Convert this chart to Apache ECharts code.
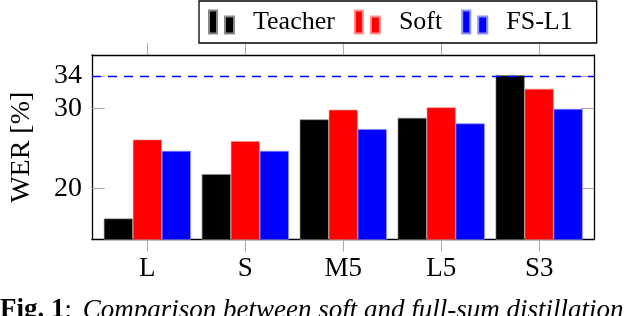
<!DOCTYPE html>
<html>
<head>
<meta charset="utf-8">
<script src="https://cdn.jsdelivr.net/npm/echarts@6/dist/echarts.min.js"></script>
<style>html,body{margin:0;padding:0;background:#fff;}#c{width:624px;height:316px;}</style>
</head>
<body>
<div id="c"></div>
<script>
const categories = ['L', 'S', 'M5', 'L5', 'S3'];
const teacher = [16.3, 21.8, 28.6, 28.8, 34.1];
const soft = [26.1, 25.9, 29.8, 30.1, 32.4];
const fsl1 = [24.7, 24.7, 27.4, 28.1, 29.9];
const yTicks = [20, 30, 34];
const refLine = 34;
const seriesNames = ['Teacher', 'Soft', 'FS-L1'];

const FONT = '"Liberation Serif", "Times New Roman", serif';
const chart = echarts.init(document.getElementById('c'), null, {renderer: 'canvas'});
const idx = categories.map((_, i) => i);
const toPts = arr => arr.map((v, i) => [i, v]);
const icon = 'path://M0,0h8v23h-8z M16,6h9v17h-9z';
const xTickVals = idx;

chart.setOption({
  animation: false,
  grid: {left: 87.5, right: 30, top: 55, bottom: 76.5, containLabel: false},
  legend: {
    data: seriesNames.map(n => ({name: n, icon: icon})),
    left: 199, top: 1,
    itemWidth: 25, itemHeight: 25,
    itemGap: 19,
    padding: [8, 24, 8, 9],
    borderColor: '#000', borderWidth: 1.3, borderRadius: 0,
    backgroundColor: '#fff',
    textStyle: {fontFamily: FONT, fontSize: 26, color: '#000', padding: [0, 0, 0, 14]}
  },
  xAxis: [{
    type: 'value', min: -0.565, max: 4.56,
    axisLine: {show: true, onZero: false, lineStyle: {color: '#000', width: 1.3}},
    axisTick: {show: true, inside: false, length: 12, customValues: xTickVals, lineStyle: {color: '#aaa', width: 1}},
    axisLabel: {show: true, customValues: xTickVals, formatter: v => categories[Math.round(v)] || '', margin: 16,
      fontFamily: FONT, fontSize: 27, color: '#000'},
    splitLine: {show: false}
  }, {
    type: 'value', min: -0.565, max: 4.56, position: 'top',
    axisLine: {show: true, onZero: false, lineStyle: {color: '#000', width: 1.3}},
    axisTick: {show: true, inside: false, length: 12, customValues: xTickVals, lineStyle: {color: '#aaa', width: 1}},
    axisLabel: {show: false},
    splitLine: {show: false}
  }],
  yAxis: [{
    type: 'value', min: 13.7, max: 36.6,
    axisLine: {show: true, onZero: false, lineStyle: {color: '#000', width: 1.3}},
    axisTick: {show: true, inside: true, length: 13, customValues: yTicks, lineStyle: {color: '#aaa', width: 1}},
    axisLabel: {show: true, customValues: yTicks, margin: 10, fontFamily: FONT, fontSize: 28, color: '#000'},
    splitLine: {show: false},
    name: 'WER [%]', nameLocation: 'middle', nameGap: 56, nameRotate: 90,
    nameTextStyle: {fontFamily: FONT, fontSize: 28, color: '#000'}
  }, {
    type: 'value', min: 13.7, max: 36.6, position: 'right',
    axisLine: {show: true, onZero: false, lineStyle: {color: '#000', width: 1.3}},
    axisTick: {show: true, inside: true, length: 13, customValues: yTicks, lineStyle: {color: '#aaa', width: 1}},
    axisLabel: {show: false},
    splitLine: {show: false}
  }],
  series: [
    {name: 'Teacher', type: 'bar', data: toPts(teacher), barWidth: 29, barGap: '0%',
      itemStyle: {color: '#000', borderColor: '#888', borderWidth: 0.6},
      markLine: {symbol: 'none', silent: true, label: {show: false},
        lineStyle: {color: '#0000ff', type: [9, 7], width: 1.3},
        data: [{yAxis: refLine}]}},
    {name: 'Soft', type: 'bar', data: toPts(soft), barWidth: 29, barGap: '0%',
      itemStyle: {color: '#ff0000', borderColor: '#ff9090', borderWidth: 0.6}},
    {name: 'FS-L1', type: 'bar', data: toPts(fsl1), barWidth: 29, barGap: '0%',
      itemStyle: {color: '#0000ff', borderColor: '#9090ff', borderWidth: 0.6}}
  ],
  graphic: [{
    type: 'text', left: 0, top: 297,
    style: {
      text: '{b|Fig. 1}: {i|Comparison between soft and full-sum distillation}',
      font: '27px ' + FONT, fill: '#000',
      rich: {
        b: {fontFamily: FONT, fontSize: 27, fontWeight: 'bold', fill: '#000'},
        i: {fontFamily: FONT, fontSize: 27, fontStyle: 'italic', fill: '#000', padding: [0, 0, 0, 4]}
      }
    }
  }]
});
</script>
</body>
</html>
